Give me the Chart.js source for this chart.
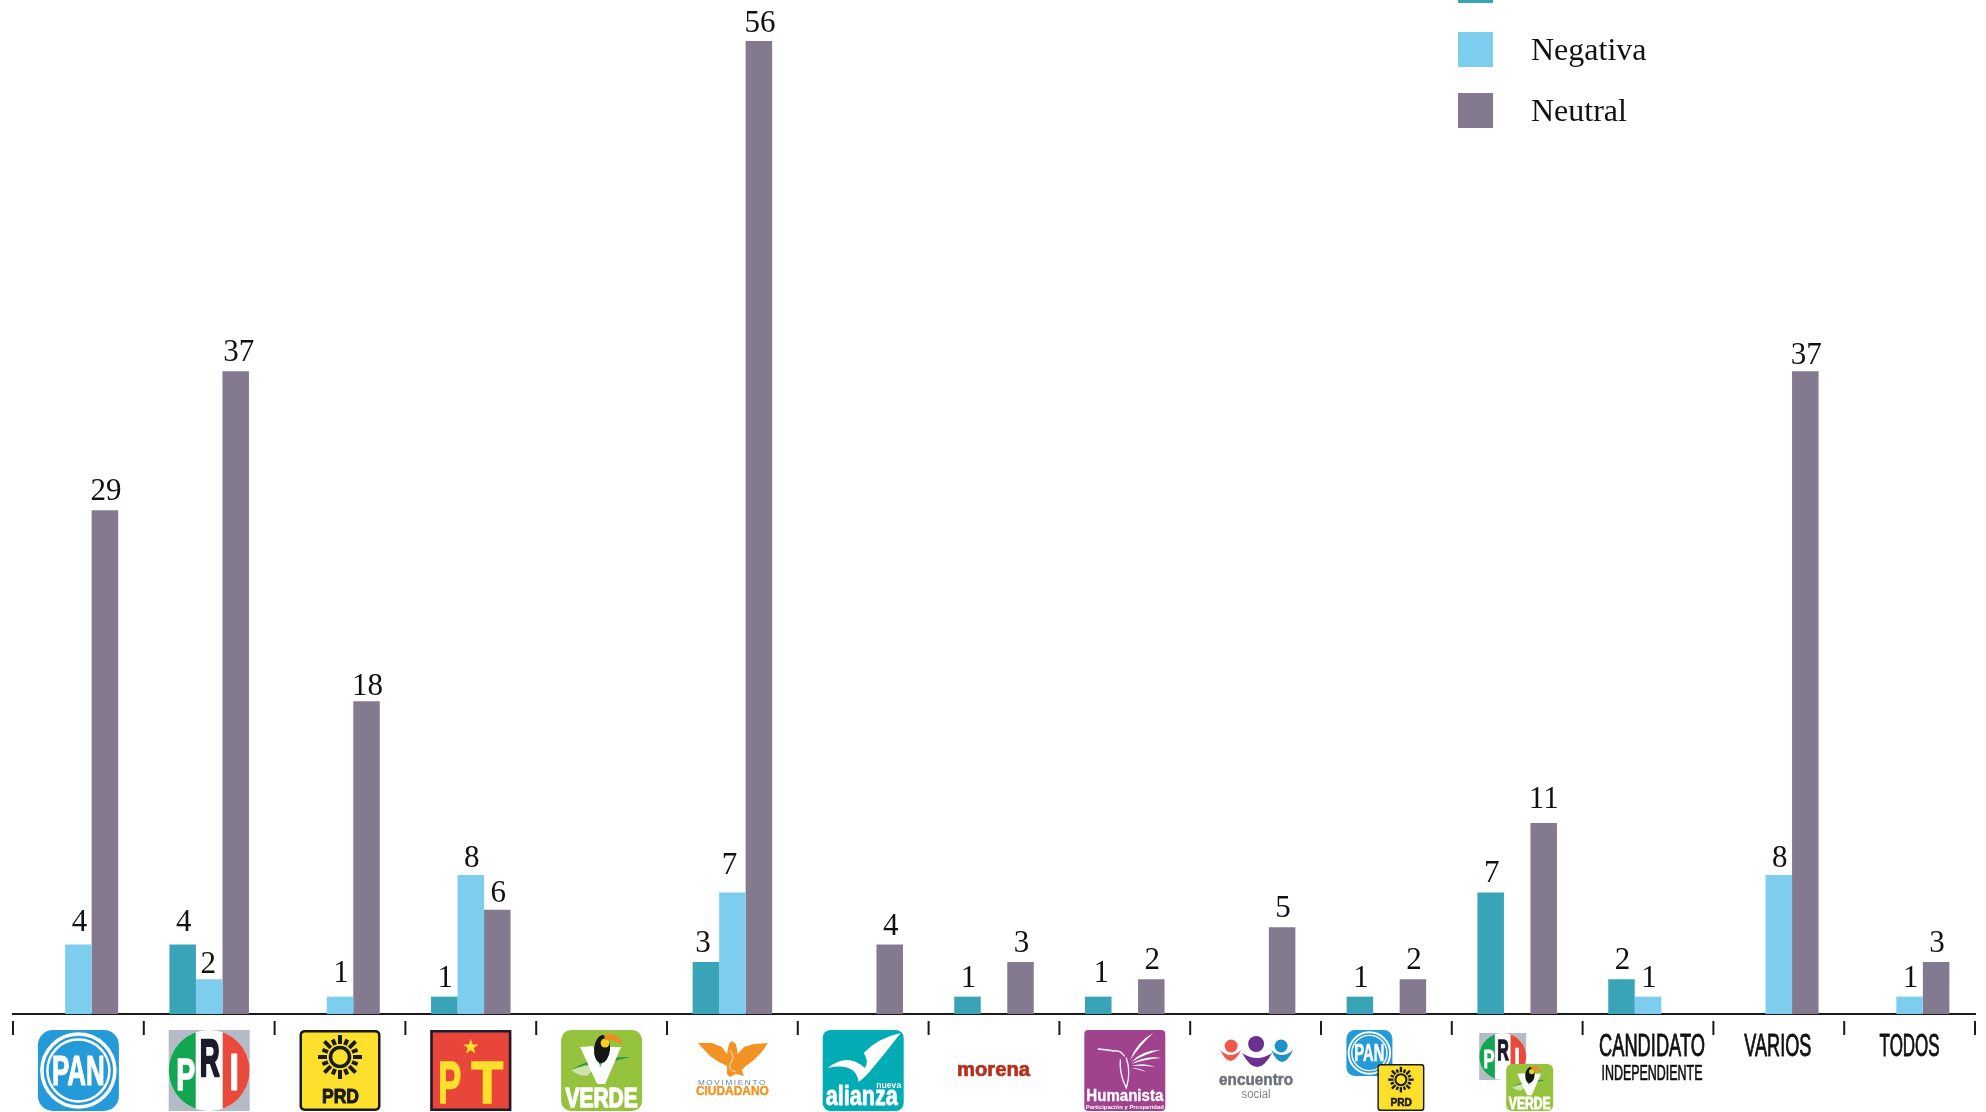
<!DOCTYPE html>
<html>
<head>
<meta charset="utf-8">
<title>Menciones por partido</title>
<script src="https://cdn.jsdelivr.net/npm/chart.js@4"></script>
<style>
  html, body { margin: 0; padding: 0; background: #fff; overflow: hidden; }
  canvas { display: block; }
</style>
</head>
<body>
<canvas id="myChart" width="1986" height="1112"></canvas>
<script>
const categorias = ['PAN', 'PRI', 'PRD', 'PT', 'VERDE', 'Movimiento Ciudadano', 'Nueva Alianza', 'Morena',
  'Humanista', 'Encuentro Social', 'PAN-PRD', 'PRI-VERDE', 'Candidato Independiente', 'Varios', 'Todos'];
const positiva = [null, 4, null, 1, null, 3, null, 1, 1, null, 1, 7, 2, null, null];
const negativa = [4, 2, 1, 8, null, 7, null, null, null, null, null, null, 1, 8, 1];
const neutral = [29, 37, 18, 6, null, 56, 4, 3, 2, 5, 2, 11, null, 37, 3];
const yMax = 58.36;

const serif = '"Liberation Serif", serif';
const sans = '"Liberation Sans", sans-serif';

// labels were nudged by hand in the original, key is dataset-category, value is [dx, dy]
const labelNudge = {
  '1-0': [0, -4], '0-1': [0, -4], '1-1': [-2, 4], '2-1': [2, 0], '1-2': [0, -5], '2-2': [0, 4],
  '1-3': [0, 2], '2-3': [0, 2], '0-5': [-4, 0], '1-5': [-4, -8], '2-5': [0, 1], '0-8': [2, -5], '2-11': [-1, -5],
  '1-13': [0, 2], '2-13': [0, 3]
};

// text squeezed to a given width, the logos use narrow lettering
function fitText(ctx, text, cx, y, font, width, color, heavy) {
  ctx.save();
  ctx.font = font;
  ctx.fillStyle = color;
  ctx.textAlign = 'center';
  ctx.textBaseline = 'alphabetic';
  const w = ctx.measureText(text).width;
  ctx.translate(cx, y);
  ctx.scale(width / w, 1);
  ctx.fillText(text, 0, 0);
  if (heavy) {
    ctx.strokeStyle = color;
    ctx.lineWidth = heavy;
    ctx.lineJoin = 'round';
    ctx.strokeText(text, 0, 0);
  }
  ctx.restore();
}

function roundBox(ctx, x, y, w, h, r, color) {
  ctx.beginPath();
  ctx.roundRect(x, y, w, h, r);
  ctx.fillStyle = color;
  ctx.fill();
}

function shape(ctx, color, points) {
  ctx.beginPath();
  points.forEach((p, i) => {
    if (i === 0) ctx.moveTo(p[0], p[1]);
    else ctx.lineTo(p[0], p[1]);
  });
  ctx.closePath();
  ctx.fillStyle = color;
  ctx.fill();
}

function ring(ctx, x, y, r, width, color) {
  ctx.beginPath();
  ctx.arc(x, y, r, 0, Math.PI * 2);
  ctx.lineWidth = width;
  ctx.strokeStyle = color;
  ctx.stroke();
}

function dot(ctx, x, y, r, color) {
  ctx.beginPath();
  ctx.arc(x, y, r, 0, Math.PI * 2);
  ctx.fillStyle = color;
  ctx.fill();
}

function feather(ctx, x0, y0, x1, y1, bend) {
  const mx = (x0 + x1) / 2;
  const my = (y0 + y1) / 2;
  const nx = (y1 - y0) * bend;
  const ny = (x0 - x1) * bend;
  ctx.beginPath();
  ctx.moveTo(x0, y0);
  ctx.quadraticCurveTo(mx + nx, my + ny, x1, y1);
  ctx.quadraticCurveTo(mx + nx * 0.3, my + ny * 0.3, x0, y0);
  ctx.fillStyle = '#fff';
  ctx.fill();
}

function smile(ctx, left, right, y, outer, inner, color) {
  const cx = (left + right) / 2;
  ctx.beginPath();
  ctx.moveTo(left, y);
  ctx.quadraticCurveTo(cx, outer, right, y);
  ctx.quadraticCurveTo(cx, inner, left, y);
  ctx.fillStyle = color;
  ctx.fill();
}

// every logo is drawn in a box of 81 x 81
const logos = {
  PAN(ctx) {
    roundBox(ctx, 0, 0, 81, 81, 15, '#259ad9');
    ring(ctx, 40.5, 40.5, 36.5, 3.5, '#fff');
    ring(ctx, 40.5, 40.5, 31, 2.5, '#fff');
    fitText(ctx, 'PAN', 40.5, 55, 'bold 42px ' + sans, 53, '#fff', 1);
  },
  PRI(ctx) {
    ctx.fillStyle = '#b5bbc6';
    ctx.fillRect(0, 0, 81, 81);
    ctx.save();
    ctx.beginPath();
    ctx.ellipse(40.5, 40.5, 40.5, 40.5, 0, 0, Math.PI * 2);
    ctx.clip();
    ctx.fillStyle = '#fff';
    ctx.fillRect(0, 0, 81, 81);
    ctx.fillStyle = '#12a650';
    ctx.fillRect(0, 0, 27, 81);
    ctx.fillStyle = '#e94a3c';
    ctx.fillRect(54, 0, 27, 81);
    ctx.restore();
    fitText(ctx, 'P', 17, 60, 'bold 44px ' + sans, 19, '#fff', 1.5);
    fitText(ctx, 'R', 41, 46, 'bold 52px ' + sans, 20, '#1b1b2b', 2.5);
    fitText(ctx, 'I', 65.5, 60, 'bold 52px ' + sans, 10, '#fff', 1);
  },
  PRD(ctx) {
    roundBox(ctx, 0, 0, 81, 81, 5, '#1a1a1a');
    roundBox(ctx, 2.5, 2.5, 76, 76, 3, '#fde02b');
    for (let i = 0; i < 16; i++) {
      ctx.save();
      ctx.translate(40.5, 27);
      ctx.rotate(i * Math.PI / 8);
      ctx.fillStyle = '#1a1a1a';
      ctx.fillRect(-2, i % 2 ? -19 : -22, 4, i % 2 ? 6 : 9);
      ctx.restore();
    }
    ring(ctx, 40.5, 27, 9.5, 3.5, '#1a1a1a');
    fitText(ctx, 'PRD', 41, 73, 'bold 20px ' + sans, 37, '#1a1a1a', 1);
  },
  PT(ctx) {
    ctx.fillStyle = '#e8463a';
    ctx.fillRect(0, 0, 81, 81);
    ctx.strokeStyle = '#1c1c2c';
    ctx.lineWidth = 2.5;
    ctx.strokeRect(1.25, 1.25, 78.5, 78.5);
    const star = [];
    for (let i = 0; i < 10; i++) {
      const r = i % 2 ? 3.2 : 8;
      const a = -Math.PI / 2 + i * Math.PI / 5;
      star.push([40.5 + r * Math.cos(a), 17 + r * Math.sin(a)]);
    }
    shape(ctx, '#fde02b', star);
    fitText(ctx, 'P', 19.5, 73, 'bold 60px ' + sans, 23, '#fde02b', 1.5);
    fitText(ctx, 'T', 57, 73, 'bold 60px ' + sans, 32, '#fde02b', 1.5);
  },
  VERDE(ctx) {
    roundBox(ctx, 0, 0, 81, 81, 10, '#95c33e');
    // swoosh behind the V
    ctx.beginPath();
    ctx.moveTo(10, 40);
    ctx.quadraticCurveTo(30, 26, 69, 27);
    ctx.quadraticCurveTo(44, 32, 26, 46);
    ctx.quadraticCurveTo(16, 46, 10, 40);
    ctx.fillStyle = '#2f9a4b';
    ctx.fill();
    ctx.beginPath();
    ctx.moveTo(10, 40);
    ctx.quadraticCurveTo(24, 34, 40, 34);
    ctx.lineTo(26, 46);
    ctx.quadraticCurveTo(16, 46, 10, 40);
    ctx.fillStyle = '#cfe3a8';
    ctx.fill();
    shape(ctx, '#fff', [[19, 17], [32, 16], [39, 37], [49, 17], [60, 17], [44, 54], [36, 54]]);
    ctx.beginPath();
    ctx.ellipse(41, 19, 8, 14, 0.1, 0, Math.PI * 2);
    ctx.fillStyle = '#151515';
    ctx.fill();
    dot(ctx, 44, 13, 4.5, '#f4d11f');
    shape(ctx, '#f08a24', [[43, 5], [52, 4], [62, 12], [61, 14], [51, 10], [44, 10]]);
    fitText(ctx, 'VERDE', 40.5, 77, 'bold 27px ' + sans, 72, '#fff', 1.5);
  },
  'Movimiento Ciudadano'(ctx) {
    shape(ctx, '#f39325', [[6, 13], [20, 13], [30, 17], [35, 24], [37, 14], [40, 11], [44, 14], [46, 24],
      [52, 17], [62, 14], [76, 13], [70, 22], [62, 30], [54, 36], [50, 40], [52, 46], [44, 44], [38, 47],
      [35, 44], [35, 36], [27, 32], [18, 26]]);
    ctx.strokeStyle = '#fff';
    ctx.lineWidth = 0.8;
    ctx.beginPath();
    ctx.moveTo(38, 20);
    ctx.quadraticCurveTo(44, 28, 38, 34);
    ctx.quadraticCurveTo(36, 40, 44, 42);
    ctx.stroke();
    ctx.save();
    ctx.letterSpacing = '1.6px';
    fitText(ctx, 'MOVIMIENTO', 40.5, 54.5, '8px ' + sans, 69, '#5b87b0');
    ctx.restore();
    fitText(ctx, 'CIUDADANO', 40.5, 64.5, 'bold 12.5px ' + sans, 73, '#f39325', 0.4);
  },
  'Nueva Alianza'(ctx) {
    roundBox(ctx, 0, 0, 81, 81, 8, '#03abb4');
    ctx.beginPath();
    ctx.moveTo(5, 38);
    ctx.quadraticCurveTo(25, 22, 42, 38);
    ctx.quadraticCurveTo(47, 32, 41, 23);
    ctx.quadraticCurveTo(55, 8, 78, 3);
    ctx.quadraticCurveTo(65, 20, 50, 38);
    ctx.quadraticCurveTo(44, 46, 36, 52);
    ctx.quadraticCurveTo(33, 32, 5, 38);
    ctx.fillStyle = '#fff';
    ctx.fill();
    fitText(ctx, 'nueva', 66, 58, 'bold 9px ' + sans, 25, '#fff');
    fitText(ctx, 'alianza', 39, 75, 'bold 28px ' + sans, 72, '#fff', 0.8);
  },
  Morena(ctx) {
    fitText(ctx, 'morena', 40, 46, 'bold 21px ' + sans, 73, '#b5301c', 0.7);
  },
  Humanista(ctx) {
    roundBox(ctx, 0, 0, 81, 81, 4, '#a1428f');
    ctx.strokeStyle = '#fff';
    ctx.lineCap = 'round';
    ctx.lineWidth = 1.3;
    ctx.beginPath();
    ctx.moveTo(14, 19);
    ctx.quadraticCurveTo(24, 20, 30, 21);
    ctx.quadraticCurveTo(36, 20, 40, 26);
    ctx.moveTo(36, 30);
    ctx.quadraticCurveTo(35, 44, 42, 58);
    ctx.quadraticCurveTo(47, 42, 42, 28);
    ctx.stroke();
    feather(ctx, 46, 30, 69, 3, 0.2);
    feather(ctx, 47, 32, 76, 20, 0.22);
    feather(ctx, 47, 34, 77, 28, 0.2);
    feather(ctx, 47, 36, 71, 37, 0.18);
    feather(ctx, 47, 38, 62, 42, 0.15);
    fitText(ctx, 'Humanista', 40.5, 71, 'bold 16px ' + sans, 77, '#fff', 0.3);
    fitText(ctx, 'Participación y Prosperidad', 40.5, 79, 'bold 6px ' + sans, 78, '#fff');
  },
  'Encuentro Social'(ctx) {
    dot(ctx, 16, 16, 6.5, '#ef5a50');
    smile(ctx, 5, 26, 20, 42, 30, '#ef5a50');
    smile(ctx, 56, 78, 20, 44, 30, '#1d91c8');
    dot(ctx, 66, 16, 6.5, '#1d91c8');
    dot(ctx, 41, 14, 8, '#6a3190');
    smile(ctx, 27, 57, 23, 51, 33, '#6a3190');
    fitText(ctx, 'encuentro', 41, 55, 'bold 16px ' + sans, 74, '#6d7278', 0.5);
    fitText(ctx, 'social', 41, 68, '12px ' + sans, 29, '#808488');
  }
};

function drawLogo(ctx, name, x, y, size) {
  ctx.save();
  ctx.translate(x, y);
  ctx.scale(size / 81, size / 81);
  logos[name](ctx);
  ctx.restore();
}

// party logos and the tick marks under the axis line
const partyAxis = {
  id: 'partyAxis',
  afterDraw(chart) {
    const ctx = chart.ctx;
    const x = chart.scales.x;
    const step = x.getPixelForValue(1) - x.getPixelForValue(0);

    ctx.fillStyle = '#1a1a1a';
    for (let i = 0; i <= categorias.length; i++) {
      const tx = x.getPixelForValue(0) + (i - 0.5) * step;
      ctx.fillRect(tx - 1, 1021, 2, 14);
    }

    categorias.forEach((name, i) => {
      const cx = x.getPixelForValue(i);
      if (logos[name]) drawLogo(ctx, name, cx - 40.5, 1030, 81);
    });

    const combo1 = x.getPixelForValue(10);
    drawLogo(ctx, 'PAN', combo1 - 40, 1030, 46);
    drawLogo(ctx, 'PRD', combo1 - 9, 1064, 47);
    const combo2 = x.getPixelForValue(11);
    drawLogo(ctx, 'PRI', combo2 - 38, 1033, 47);
    drawLogo(ctx, 'VERDE', combo2 - 11, 1064, 47);

    fitText(ctx, 'CANDIDATO', x.getPixelForValue(12) + 4, 1056, '32px ' + sans, 106, '#111', 0.9);
    fitText(ctx, 'INDEPENDIENTE', x.getPixelForValue(12) + 4, 1080, '22px ' + sans, 101, '#111', 0.7);
    fitText(ctx, 'VARIOS', x.getPixelForValue(13) - 1, 1056, '32px ' + sans, 67, '#111', 0.9);
    fitText(ctx, 'TODOS', x.getPixelForValue(14), 1056, '32px ' + sans, 60, '#111', 0.9);
  }
};

const barLabels = {
  id: 'barLabels',
  afterDatasetsDraw(chart) {
    const ctx = chart.ctx;
    ctx.save();
    ctx.font = '31px ' + serif;
    ctx.fillStyle = '#111';
    ctx.textAlign = 'center';
    ctx.textBaseline = 'alphabetic';
    chart.data.datasets.forEach((ds, d) => {
      chart.getDatasetMeta(d).data.forEach((bar, i) => {
        if (ds.data[i] === null) return;
        const nudge = labelNudge[d + '-' + i] || [0, 0];
        ctx.fillText(ds.data[i], bar.x + 1 + nudge[0], bar.y - 10 + nudge[1]);
      });
    });
    ctx.restore();
  }
};

// legend runs off the top of the picture, so it is placed by hand
const legendTops = [-32, 32, 93];
const cornerLegend = {
  id: 'cornerLegend',
  afterDraw(chart) {
    const ctx = chart.ctx;
    ctx.save();
    ctx.font = '32px ' + serif;
    ctx.textAlign = 'left';
    ctx.textBaseline = 'alphabetic';
    chart.data.datasets.forEach((ds, i) => {
      ctx.fillStyle = ds.backgroundColor;
      ctx.fillRect(1458, legendTops[i], 35, 35);
      ctx.fillStyle = '#111';
      ctx.fillText(ds.label, 1531, legendTops[i] + 28);
    });
    ctx.restore();
  }
};

new Chart(document.getElementById('myChart'), {
  type: 'bar',
  data: {
    labels: categorias,
    datasets: [
      { label: 'Positiva', data: positiva, backgroundColor: '#39a3b8' },
      { label: 'Negativa', data: negativa, backgroundColor: '#7dceee' },
      { label: 'Neutral', data: neutral, backgroundColor: '#837a8f' }
    ]
  },
  options: {
    responsive: false,
    animation: false,
    layout: { padding: { left: 13, right: 11, top: 0, bottom: 98 } },
    datasets: { bar: { barPercentage: 1, categoryPercentage: 0.608 } },
    plugins: {
      legend: { display: false },
      tooltip: { enabled: false }
    },
    scales: {
      x: {
        grid: { display: false, drawTicks: false },
        border: { display: true, color: '#1a1a1a', width: 2 },
        ticks: { display: false }
      },
      y: {
        display: false,
        beginAtZero: true,
        min: 0,
        max: yMax
      }
    }
  },
  plugins: [barLabels, partyAxis, cornerLegend]
});
</script>
</body>
</html>
